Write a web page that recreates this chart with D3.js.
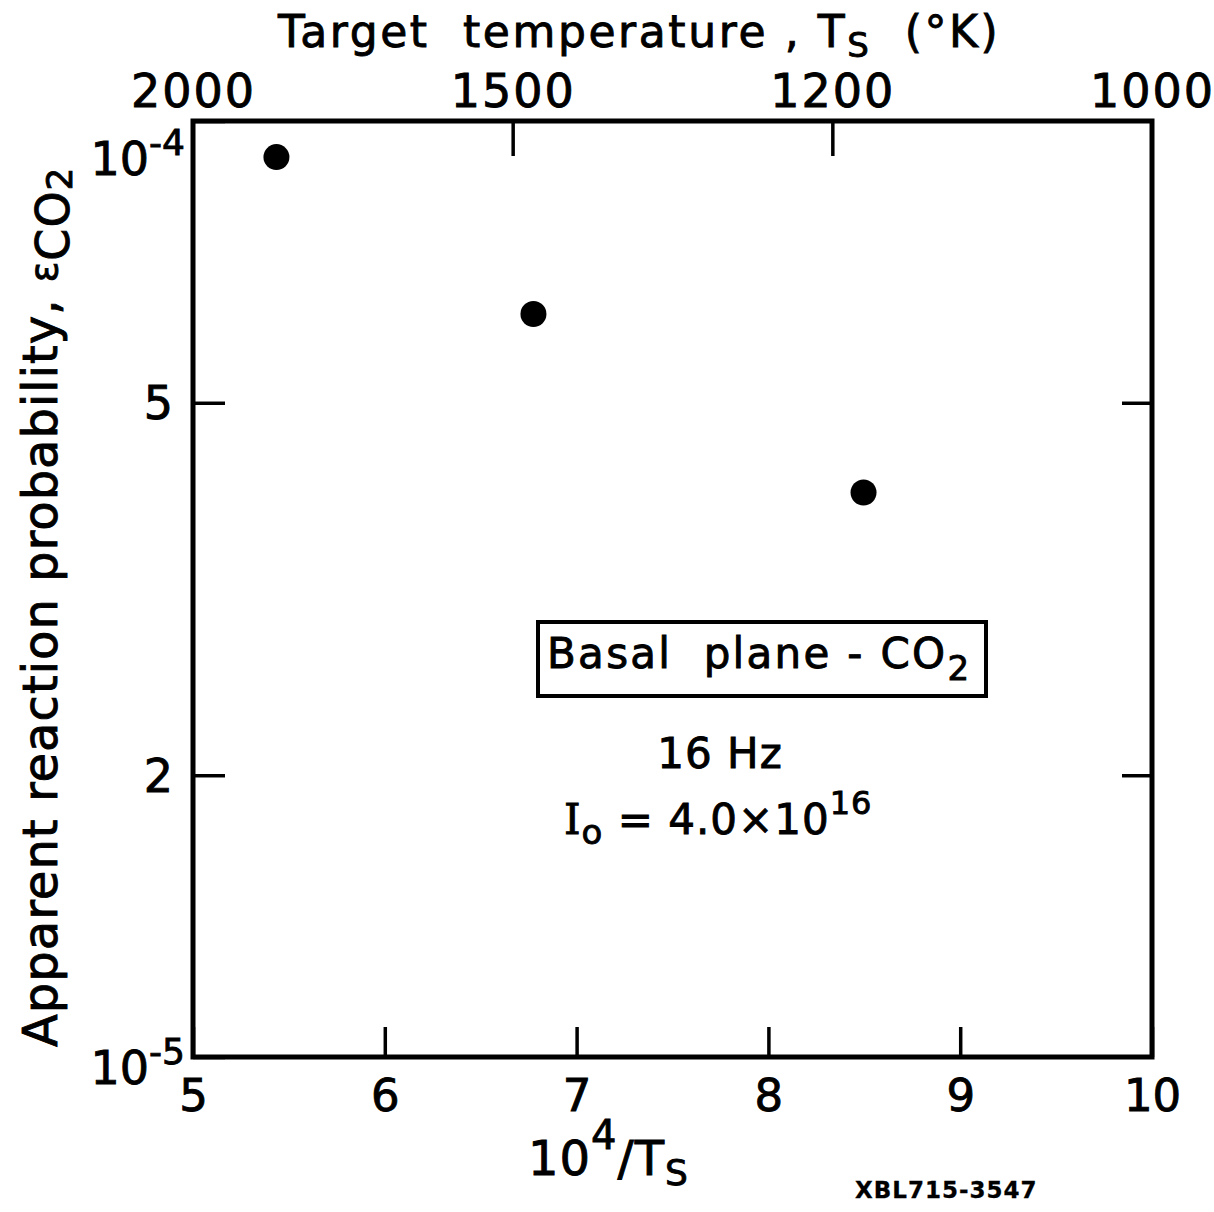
<!DOCTYPE html>
<html>
<head>
<meta charset="utf-8">
<script src="https://cdn.jsdelivr.net/npm/d3@7"></script>
<style>
  html, body { margin: 0; padding: 0; background: #fff; }
  svg { display: block; }
  text { font-family: "DejaVu Sans", sans-serif; fill: #000; stroke: #000; stroke-width: 0.9px; }
</style>
</head>
<body>
<svg id="chart" width="1214" height="1212"></svg>
<script>
// Inverse temperature values (10^4 / Ts) of the three measurements
const invTemp = [5.435, 6.775, 8.496];
// Apparent reaction probability for CO2 at each point
const epsilonCO2 = [9.15e-5, 6.22e-5, 4.01e-5];

// Bottom axis ticks (10^4/Ts)
const bottomTicks = [5, 6, 7, 8, 9, 10];
// Top axis ticks: target temperature in K
const topTemps = [2000, 1500, 1200, 1000];
// Left axis ticks and their labels
const leftTicks = [1e-4, 5e-5, 2e-5, 1e-5];
const leftMantissa = ["10", "5", "2", "10"];
const leftExponent = ["-4", "", "", "-5"];

const svg = d3.select("#chart");

const plotLeft = 193, plotRight = 1152, plotTop = 121, plotBottom = 1057;

const x = d3.scaleLinear().domain([5, 10]).range([plotLeft, plotRight]);
const y = d3.scaleLog().domain([1e-5, 1e-4]).range([plotBottom, plotTop]);

const axisStyle = g => {
  g.select(".domain").remove();
  g.selectAll(".tick line").attr("stroke", "#000").attr("stroke-width", 3.5);
  g.selectAll(".tick text")
    .attr("font-family", "DejaVu Sans, sans-serif")
    .attr("fill", "#000");
};

// Bottom axis: inward ticks and numeric labels
svg.append("g")
  .attr("transform", `translate(0,${plotBottom})`)
  .call(d3.axisBottom(x).tickValues(bottomTicks).tickSizeInner(-30).tickSizeOuter(0)
    .tickPadding(22).tickFormat(d3.format("d")))
  .call(axisStyle)
  .call(g => g.selectAll(".tick text").attr("font-size", 45).attr("dy", "0.71em"));

// Top axis: target temperature, placed at 10^4/T
svg.append("g")
  .attr("transform", `translate(0,${plotTop})`)
  .call(d3.axisTop(x).tickValues(topTemps.map(t => 1e4 / t)).tickSizeInner(-35).tickSizeOuter(0)
    .tickPadding(14).tickFormat((d, i) => topTemps[i]))
  .call(axisStyle)
  .call(g => {
    g.selectAll(".tick text").attr("font-size", 46).attr("letter-spacing", 2);
    g.selectAll(".tick line").filter(d => d <= 5.0001 || d >= 9.9999).remove();
  });

// Left axis: inward ticks, labels drawn separately for exponents
svg.append("g")
  .attr("transform", `translate(${plotLeft},0)`)
  .call(d3.axisLeft(y).tickValues(leftTicks).tickSizeInner(-32).tickSizeOuter(0).tickFormat(""))
  .call(axisStyle);

// Right axis: inward ticks only
svg.append("g")
  .attr("transform", `translate(${plotRight},0)`)
  .call(d3.axisRight(y).tickValues([5e-5, 2e-5]).tickSizeInner(-30).tickSizeOuter(0).tickFormat(""))
  .call(axisStyle);

// Left tick labels with optional exponents
leftTicks.forEach((v, i) => {
  const t = svg.append("text")
    .attr("font-size", 46)
    .attr("text-anchor", "end");
  if (leftExponent[i]) {
    t.attr("x", plotLeft - 8).attr("y", y(v) + (i === 0 ? 54 : 27));
    t.append("tspan").text(leftMantissa[i]);
    t.append("tspan").attr("dy", -20).attr("font-size", 36).text(leftExponent[i]);
  } else {
    t.attr("x", plotLeft - 20).attr("y", y(v)).attr("dy", "0.36em").text(leftMantissa[i]);
  }
});

// Frame
svg.append("rect")
  .attr("x", plotLeft).attr("y", plotTop)
  .attr("width", plotRight - plotLeft).attr("height", plotBottom - plotTop)
  .attr("fill", "none").attr("stroke", "#000").attr("stroke-width", 5);

// Data points
svg.append("g").selectAll("circle")
  .data(invTemp.map((v, i) => [v, epsilonCO2[i]]))
  .join("circle")
  .attr("cx", d => x(d[0]))
  .attr("cy", d => y(d[1]))
  .attr("r", 13)
  .attr("fill", "#000");

// Top title
const title = svg.append("text")
  .attr("x", 278).attr("y", 47)
  .attr("font-size", 44).attr("letter-spacing", 2.6)
  .attr("xml:space", "preserve");
title.append("tspan").text("Target  temperature , T");
title.append("tspan").attr("font-size", 34).attr("dy", 10).text("S");
title.append("tspan").attr("dy", -10).text("  (°K)");

// Bottom axis title
const xTitle = svg.append("text")
  .attr("x", 528).attr("y", 1175)
  .attr("font-size", 48).attr("letter-spacing", 1);
xTitle.append("tspan").text("10");
xTitle.append("tspan").attr("dy", -26).attr("font-size", 40).text("4");
xTitle.append("tspan").attr("dy", 26).text("/T");
xTitle.append("tspan").attr("dy", 10).attr("font-size", 36).text("S");

// Figure identifier
svg.append("text")
  .attr("x", 855).attr("y", 1198)
  .attr("font-size", 23).attr("font-weight", "bold").attr("letter-spacing", 1)
  .style("stroke-width", "0.3px")
  .text("XBL715-3547");

// Y axis title (rotated)
const yTitle = svg.append("text")
  .attr("transform", "translate(57,1047) rotate(-90)")
  .attr("font-size", 48).attr("letter-spacing", 1);
yTitle.append("tspan").text("Apparent reaction probability, ");
yTitle.append("tspan").attr("font-size", 38).text("ε");
yTitle.append("tspan").attr("font-size", 46).attr("dy", 12).text("CO");
yTitle.append("tspan").attr("font-size", 36).attr("dy", 3).text("2");

// Legend box
svg.append("rect")
  .attr("x", 538).attr("y", 622)
  .attr("width", 448).attr("height", 74)
  .attr("fill", "none").attr("stroke", "#000").attr("stroke-width", 4);
const legend = svg.append("text")
  .attr("x", 547).attr("y", 668)
  .attr("font-size", 42).attr("letter-spacing", 2.3)
  .attr("xml:space", "preserve");
legend.append("tspan").text("Basal  plane - CO");
legend.append("tspan").attr("font-size", 34).attr("dy", 12).text("2");

// Annotations
svg.append("text")
  .attr("x", 720).attr("y", 768)
  .attr("text-anchor", "middle")
  .attr("font-size", 42).attr("letter-spacing", 1)
  .text("16 Hz");

const io = svg.append("text")
  .attr("x", 564).attr("y", 834)
  .attr("font-size", 42).attr("letter-spacing", 1);
io.append("tspan").attr("font-family", "DejaVu Serif, serif").text("I");
io.append("tspan").attr("font-size", 34).attr("dy", 10).text("o");
io.append("tspan").attr("dy", -10).text(" = 4.0×10");
io.append("tspan").attr("font-size", 32).attr("dy", -20).text("16");
</script>
</body>
</html>
